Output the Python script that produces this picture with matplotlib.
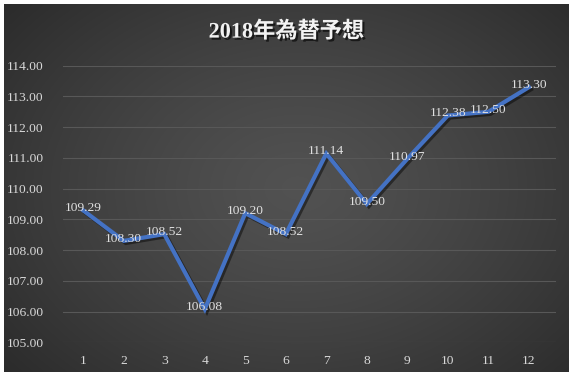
import numpy as np
import matplotlib
matplotlib.use("Agg")
import matplotlib.pyplot as plt
import matplotlib.patheffects as pe

# monthly forecast
months = [1, 2, 3, 4, 5, 6, 7, 8, 9, 10, 11, 12]
rates = [109.29, 108.30, 108.52, 106.08, 109.20, 108.52, 111.14, 109.50, 110.97, 112.38, 112.50, 113.30]
yticks = [105, 106, 107, 108, 109, 110, 111, 112, 113, 114]
title = "2018年為替予想"

fig = plt.figure(figsize=(5.73, 3.77), dpi=100)
fig.patch.set_facecolor("white")

# dark radial gradient background of the chart area
bg = fig.add_axes([4 / 573, 5 / 377, 565 / 573, 368 / 377])
bg.set_axis_off()
yy, xx = np.mgrid[0:1:200j, 0:1:300j]
r = np.sqrt(((xx - 0.52) / 0.75) ** 2 + ((yy - 0.5) / 0.85) ** 2)
shade = 0.32 - 0.17 * np.clip(r, 0, 1) ** 1.3
bg.imshow(np.dstack([shade] * 3), aspect="auto", extent=[0, 1, 0, 1], interpolation="bilinear")

ax = fig.add_axes([63 / 573, 34.7 / 377, 493 / 573, 276.6 / 377])
ax.set_facecolor("none")
ax.plot(months, rates, color="#4472C4", lw=3.0, solid_joinstyle="miter",
        path_effects=[pe.SimpleLineShadow(offset=(1.5, -1.5), shadow_color="black", alpha=0.45),
                      pe.Normal()])

for m, v in zip(months, rates):
    ax.text(m, v + 0.07, f"{v:.2f}", ha="center", va="center", color="#E0E0E0",
            fontsize=9.7, family="Liberation Serif")

ax.set_xlim(0.5, 12.67)
ax.set_ylim(105, 114)
ax.set_yticks(yticks)
ax.set_yticklabels([f"{t:.2f}" for t in yticks])
ax.set_xticks(months)
ax.grid(axis="y", color="#585858", lw=0.8)
ax.set_axisbelow(True)
for s in ax.spines.values():
    s.set_visible(False)
ax.tick_params(length=0, colors="#D9D9D9", labelsize=9.7)
ax.tick_params(axis="y", pad=14)
ax.tick_params(axis="x", pad=9)
for lab in ax.get_xticklabels() + ax.get_yticklabels():
    lab.set_family("Liberation Serif")

fig.text(0.5, 1 - 32 / 377, title, ha="center", va="center", color="#F2F2F2",
         fontsize=16, fontweight="bold", family=["Liberation Serif", "Noto Sans CJK JP"],
         path_effects=[pe.withSimplePatchShadow(offset=(1.5, -1.5), shadow_rgbFace="black", alpha=0.6)])

fig.savefig("out.png", dpi=100)
